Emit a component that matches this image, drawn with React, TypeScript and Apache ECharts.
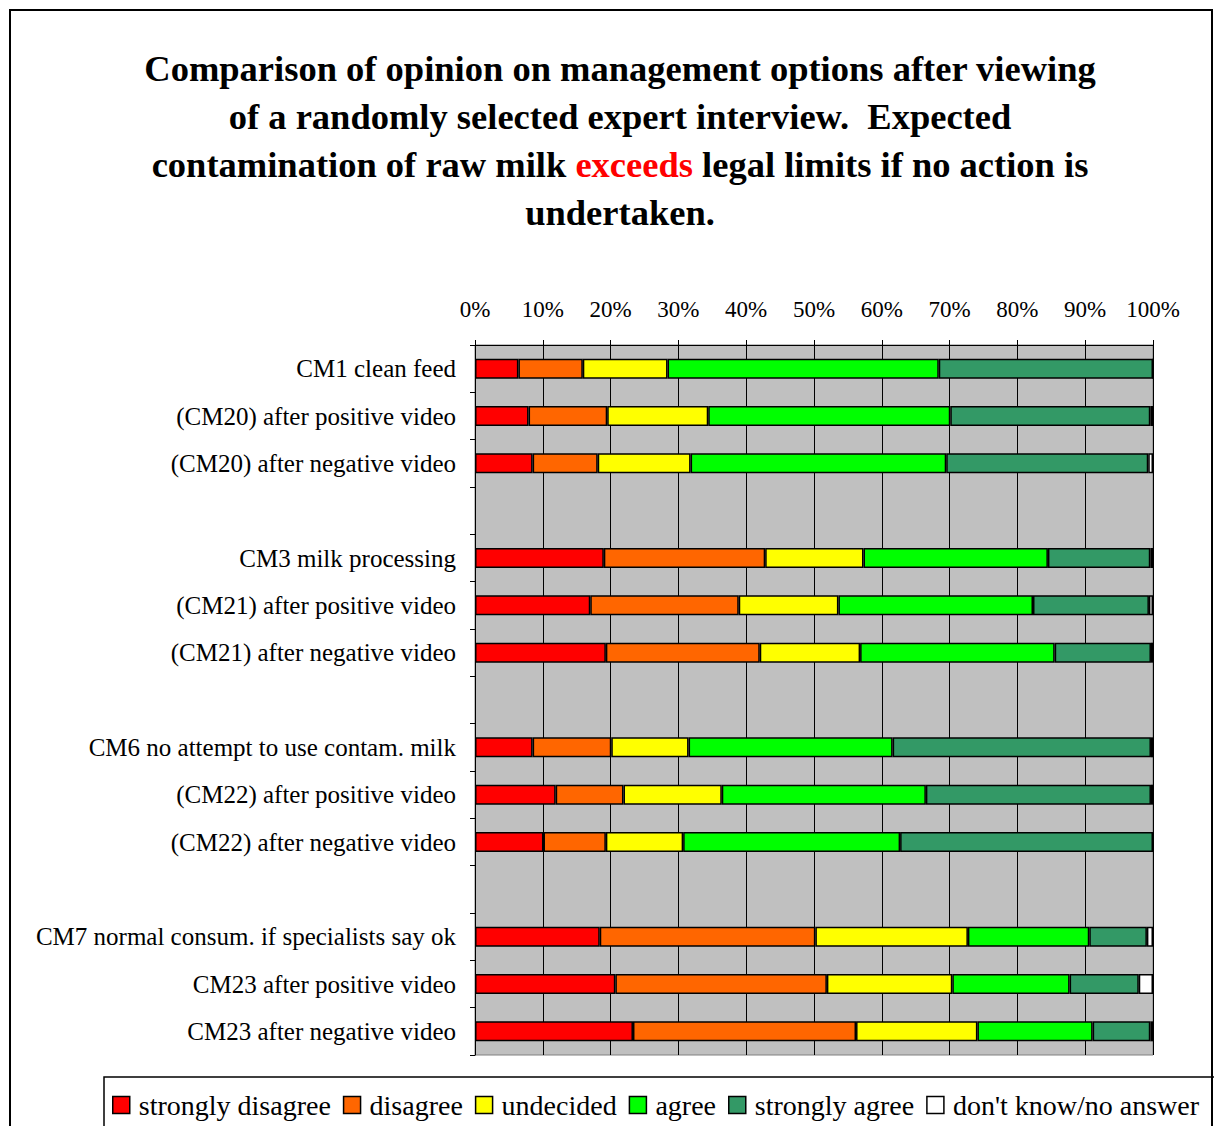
import React, { useEffect, useRef } from "react";
import * as echarts from "echarts";

const categories = [
  "CM1 clean feed",
  "(CM20) after positive video",
  "(CM20) after negative video",
  " ",
  "CM3 milk processing",
  "(CM21) after positive video",
  "(CM21) after negative video",
  "  ",
  "CM6 no attempt to use contam. milk",
  "(CM22) after positive video",
  "(CM22) after negative video",
  "   ",
  "CM7 normal consum. if specialists say ok",
  "CM23 after positive video",
  "CM23 after negative video",
];

const seriesNames = [
  "strongly disagree",
  "disagree",
  "undecided",
  "agree",
  "strongly agree",
  "don't know/no answer",
];

const stronglyDisagree = [6.4, 7.9, 8.5, null, 19.0, 17.0, 19.3, null, 8.5, 11.9, 10.1, null, 18.4, 20.7, 23.3];
const disagree = [9.5, 11.6, 9.6, null, 23.8, 21.9, 22.7, null, 11.6, 10.0, 9.2, null, 31.8, 31.2, 32.9];
const undecided = [12.5, 14.9, 13.7, null, 14.5, 14.7, 14.8, null, 11.4, 14.5, 11.4, null, 22.5, 18.5, 17.9];
const agree = [40.0, 35.7, 37.7, null, 27.2, 28.7, 28.7, null, 30.1, 30.1, 32.0, null, 17.9, 17.3, 17.0];
const stronglyAgree = [31.6, 29.5, 29.8, null, 15.1, 17.1, 14.2, null, 38.1, 33.2, 37.3, null, 8.5, 10.2, 8.5];
const dontKnow = [0, 0.4, 0.7, null, 0.4, 0.6, 0.3, null, 0.3, 0.3, 0, null, 0.9, 2.1, 0.4];

const seriesValues = [stronglyDisagree, disagree, undecided, agree, stronglyAgree, dontKnow];
const seriesColors = ["#FF0000", "#FF6600", "#FFFF00", "#00FF00", "#339966", "#FFFFFF"];

const titleLines = [
  "Comparison of opinion on management options after viewing",
  "of a randomly selected expert interview.  Expected",
  "contamination of raw milk {r|exceeds} legal limits if no action is",
  "undertaken.",
];

const FONT = "'Liberation Serif', 'Times New Roman', serif";

export default function App() {
  const ref = useRef<HTMLDivElement>(null);

  useEffect(() => {
    document.body.style.margin = "0";
    const chart = echarts.init(ref.current!, null, { renderer: "svg" });
    chart.setOption({
      animation: false,
      backgroundColor: "#FFFFFF",
      textStyle: { fontFamily: FONT },
      graphic: [
        {
          type: "rect",
          z: 0,
          shape: { x: 10, y: 10, width: 1202, height: 1300 },
          style: { fill: "transparent", stroke: "#000", lineWidth: 2 },
        },
        {
          type: "rect",
          z: 0,
          shape: { x: 104, y: 1077, width: 1200, height: 100 },
          style: { fill: "transparent", stroke: "#000", lineWidth: 1.5 },
        },
        {
          type: "text",
          z: 5,
          x: 620,
          y: 44,
          style: {
            text: titleLines.join("\n"),
            align: "center",
            verticalAlign: "top",
            fontFamily: FONT,
            fontSize: 36.5,
            fontWeight: "bold",
            lineHeight: 48,
            fill: "#000",
            rich: {
              r: {
                fill: "#FF0000",
                fontFamily: FONT,
                fontSize: 36.5,
                fontWeight: "bold",
                lineHeight: 48,
              },
            },
          },
        },
      ],
      legend: {
        data: seriesNames,
        left: 112,
        top: 1091,
        itemWidth: 17,
        itemHeight: 17,
        itemGap: 12,
        icon: "rect",
        padding: 0,
        textStyle: {
          fontFamily: FONT,
          fontSize: 28,
          color: "#000",
          padding: [0, 0, 0, 4],
        },
        itemStyle: { borderColor: "#000", borderWidth: 1.5 },
      },
      grid: {
        left: 475,
        right: 61,
        top: 345,
        bottom: 71,
        show: true,
        backgroundColor: "#C0C0C0",
        borderColor: "#808080",
        borderWidth: 1,
      },
      xAxis: {
        type: "value",
        position: "top",
        min: 0,
        max: 100,
        interval: 10,
        axisLine: { show: true, lineStyle: { color: "#000", width: 1 } },
        axisTick: { show: true, length: 5, lineStyle: { color: "#000" } },
        axisLabel: {
          formatter: "{value}%",
          fontFamily: FONT,
          fontSize: 23,
          color: "#000",
          margin: 24,
        },
        splitLine: { show: true, lineStyle: { color: "#000", width: 1 } },
      },
      yAxis: {
        type: "category",
        inverse: true,
        data: categories,
        axisLine: { show: true, lineStyle: { color: "#000", width: 1 } },
        axisTick: { show: true, length: 5, lineStyle: { color: "#000" } },
        axisLabel: {
          fontFamily: FONT,
          fontSize: 25,
          color: "#000",
          margin: 19,
        },
        splitLine: { show: false },
      },
      series: seriesValues.map((vals, i) => ({
        name: seriesNames[i],
        type: "bar",
        stack: "total",
        barWidth: 20,
        data: vals.map((v) => (v === null ? "-" : v)),
        itemStyle: { color: seriesColors[i], borderColor: "#000", borderWidth: 1.5 },
        emphasis: { disabled: true },
      })),
    });
    return () => chart.dispose();
  }, []);

  return <div ref={ref} style={{ width: 1214, height: 1126 }} />;
}
